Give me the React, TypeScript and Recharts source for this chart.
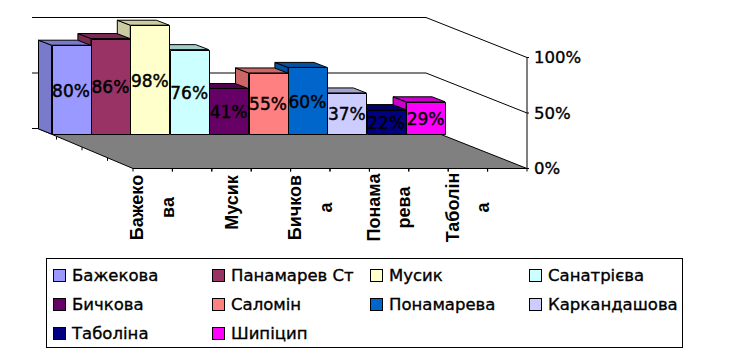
import React from 'react';
import { BarChart, Bar, XAxis, YAxis, ReferenceLine, Legend, LabelList } from 'recharts';

const names = ['Бажекова', 'Панамарев Ст', 'Мусик', 'Санатрієва', 'Бичкова', 'Саломін', 'Понамарева', 'Каркандашова', 'Таболіна', 'Шипіцип'];
const values = [80, 86, 98, 76, 41, 55, 60, 37, 22, 29];
const fills = ['#9999FF', '#993366', '#FFFFCC', '#CCFFFF', '#660066', '#FF8080', '#0066CC', '#CCCCFF', '#000080', '#FF00FF'];
const topFills = ['#7A7ACC', '#7A2952', '#CCCCA3', '#A3CCCC', '#520052', '#CC6666', '#0052A3', '#A3A3CC', '#000066', '#CC00CC'];
const tickLines: Record<string, string[]> = {
  'Бажекова': ['Бажеко', 'ва'],
  'Мусик': ['Мусик'],
  'Бичкова': ['Бичков', 'а'],
  'Понамарева': ['Понама', 'рева'],
  'Таболіна': ['Таболін', 'а'],
};
const yTicks = [0, 50, 100];
const depthTicks = [25.5, 51, 76.5];

// painted right to left so that each bar's front hides its right neighbour's side
const rows = names.map((name, i) => ({ name, value: values[i], fill: fills[i], top: topFills[i] })).reverse();

const WIDTH = 733;
const HEIGHT = 357;
const PLOT = { left: 133, right: 527, top: 57.5, bottom: 168.5 };
const BAND = (PLOT.right - PLOT.left) / names.length;
const BAR_SHIFT = { x: -81.5, y: -34.5 };
const WALL_SHIFT = { x: -101, y: -40 };
const BAR_DEPTH = { x: -13, y: -5 };
const FLOOR_SLOPE = 34 / 81.5;
const FONT = '"DejaVu Sans", sans-serif';

const pts = (list: number[][]) => list.map((p) => p.join(',')).join(' ');

function Bar3D(props: any) {
  const { x, y, width, height, payload } = props;
  const l = x + BAR_SHIFT.x;
  const t = y + BAR_SHIFT.y;
  const r = l + width;
  const b = t + height;
  const dx = BAR_DEPTH.x;
  const dy = BAR_DEPTH.y;
  return (
    <g stroke="#000" strokeWidth={1} strokeLinejoin="round">
      <polygon points={pts([[l, t], [l + dx, t + dy], [l + dx, b + dy], [l, b]])} fill={payload.top} />
      <polygon points={pts([[l, t], [l + dx, t + dy], [r + dx, t + dy], [r, t]])} fill={payload.top} />
      <rect x={Math.round(l) + 0.5} y={Math.round(t) + 0.5} width={Math.round(width)} height={Math.round(b) - Math.round(t)} fill={payload.fill} />
    </g>
  );
}

function BarLabel(props: any) {
  const { x, y, width, height, value } = props;
  return (
    <text
      x={x + BAR_SHIFT.x + width / 2}
      y={y + BAR_SHIFT.y + height / 2 + 1}
      textAnchor="middle"
      dominantBaseline="central"
      fontFamily={FONT}
      fontSize={17}
      fill="#000"
      stroke="#000"
      strokeWidth={0.45}
    >
      {value}%
    </text>
  );
}

function Wall(props: any) {
  const { x1, x2, y1 } = props;
  const lo = Math.min(x1, x2);
  const hi = Math.max(x1, x2);
  const left = lo + WALL_SHIFT.x;
  const back = hi + WALL_SHIFT.x;
  const yb = y1 + WALL_SHIFT.y;
  return <polyline points={pts([[left, yb], [back, yb], [hi, y1]])} fill="none" stroke="#000" strokeWidth={1} />;
}

function Floor(props: any) {
  const { x1, x2, y1 } = props;
  const lo = Math.min(x1, x2);
  const hi = Math.max(x1, x2);
  const left = lo + WALL_SHIFT.x + 6;
  const back = hi + WALL_SHIFT.x;
  const yb = y1 + WALL_SHIFT.y;
  return (
    <g stroke="#000" strokeWidth={1}>
      <line x1={left - 6} x2={left} y1={yb} y2={yb} />
      <polygon points={pts([[left, yb], [back, yb], [hi, y1], [lo, y1]])} fill="#808080" />
      {depthTicks.map((d) => (
        <line key={d} x1={lo - d} x2={lo - d} y1={y1 - d * FLOOR_SLOPE} y2={y1 - d * FLOOR_SLOPE + 3} />
      ))}
    </g>
  );
}

function CategoryTick(props: any) {
  const { x, y, payload } = props;
  const lines = tickLines[payload.value] || [];
  const step = 30.5;
  const start = x - ((lines.length - 1) * step) / 2;
  const cy = y + (lines.length > 1 ? 31 : 26);
  return (
    <g>
      <line x1={x - BAND / 2} x2={x - BAND / 2} y1={PLOT.bottom} y2={PLOT.bottom + 3} stroke="#000" />
      <line x1={x + BAND / 2} x2={x + BAND / 2} y1={PLOT.bottom} y2={PLOT.bottom + 3} stroke="#000" />
      {lines.map((line, i) => (
        <text
          key={line}
          transform={`translate(${start + i * step},${cy}) rotate(-90)`}
          textAnchor="middle"
          dominantBaseline="central"
          fontFamily='"Liberation Sans", sans-serif'
          fontWeight={700}
          fontSize={18}
          fill="#000"
        >
          {line}
        </text>
      ))}
    </g>
  );
}

function ValueTick(props: any) {
  const { x, y, payload } = props;
  return (
    <text x={x + 3} y={y} dominantBaseline="central" fontFamily={FONT} fontSize={16.5} fill="#000" stroke="#000" strokeWidth={0.35}>
      {payload.value}%
    </text>
  );
}

function LegendBox() {
  return (
    <div
      style={{
        boxSizing: 'border-box',
        width: 637,
        height: 90,
        border: '1px solid #000',
        background: '#fff',
        display: 'grid',
        gridTemplateColumns: '159px 158px 159px 158px',
        gridAutoRows: '29px',
        padding: '2px 0 0 6px',
        alignItems: 'center',
        fontFamily: FONT,
        fontSize: 16.5,
        color: '#000',
        WebkitTextStroke: '0.35px #000',
      }}
    >
      {names.map((name, i) => (
        <div key={name} style={{ display: 'flex', alignItems: 'center', whiteSpace: 'nowrap' }}>
          <span style={{ boxSizing: 'border-box', width: 13, height: 13, background: fills[i], border: '1px solid #000', marginRight: 6, flex: 'none' }} />
          {name}
        </div>
      ))}
    </div>
  );
}

export default function App() {
  return (
    <div style={{ position: 'absolute', left: 0, top: 0, width: WIDTH, height: HEIGHT }}>
      <BarChart
        width={WIDTH}
        height={HEIGHT}
        data={rows}
        barCategoryGap={0}
        margin={{ top: PLOT.top, left: PLOT.left, right: WIDTH - PLOT.right - 60, bottom: HEIGHT - PLOT.bottom - 30 }}
      >
        <XAxis
          dataKey="name"
          reversed
          interval={0}
          height={30}
          tick={<CategoryTick />}
          tickLine={false}
          axisLine={{ stroke: '#000' }}
          padding={{ left: 0, right: 0 }}
        />
        <YAxis
          orientation="right"
          width={60}
          domain={[0, 100]}
          ticks={yTicks}
          tick={<ValueTick />}
          tickSize={2}
          tickLine={{ stroke: '#000' }}
          axisLine={{ stroke: '#000' }}
        />
        <ReferenceLine y={100} shape={<Wall />} zIndex={100} />
        <ReferenceLine y={50} shape={<Wall />} zIndex={100} />
        <ReferenceLine y={0} shape={<Floor />} zIndex={100} />
        <Legend
          layout="horizontal"
          verticalAlign="middle"
          align="center"
          content={<LegendBox />}
          wrapperStyle={{ position: 'absolute', left: 46, top: 258, width: 637, height: 90, margin: 0 }}
        />
        <Bar dataKey="value" shape={<Bar3D />} isAnimationActive={false}>
          <LabelList dataKey="value" content={<BarLabel />} />
        </Bar>
      </BarChart>
    </div>
  );
}
